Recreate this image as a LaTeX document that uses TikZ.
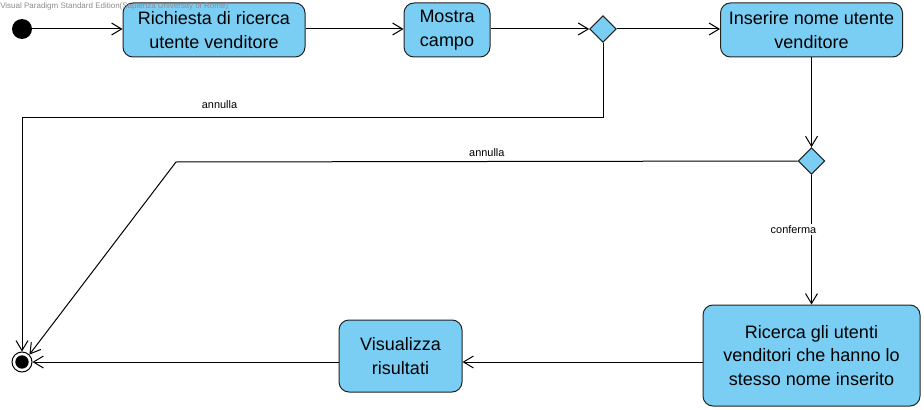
\documentclass[tikz,border=0pt]{standalone}
\usepackage{fontspec}
\setmainfont{Liberation Sans}
\usetikzlibrary{arrows.meta,shapes.geometric}
\definecolor{actfill}{HTML}{7ACEF4}
\definecolor{edgecol}{HTML}{222222}
\begin{document}
\begin{tikzpicture}[x=0.75pt,y=-0.75pt,
 act/.style={draw=edgecol,fill=actfill,rounded corners=7.5pt,line width=0.75pt,align=center,font=\fontsize{13.5}{17.6}\selectfont,inner sep=0pt},
 dec/.style={diamond,draw=edgecol,fill=actfill,minimum width=20pt,minimum height=20pt,inner sep=0pt,line width=0.75pt},
 flow/.style={draw=black,line width=0.75pt,-{Straight Barb[length=7.5pt,width=9pt,line width=0.75pt]}},
 lbl/.style={font=\fontsize{8.2}{9.5}\selectfont,inner sep=1pt}]
\useasboundingbox (0,0) rectangle (924,410);
\node[circle,fill=black,minimum size=15pt,inner sep=0pt] (init) at (22,29) {};
\node[act,minimum width=136.5pt,minimum height=40.5pt] (b1) at (214,30) {Richiesta di ricerca\\utente venditore};
\node[act,minimum width=64.5pt,minimum height=40.5pt] (b2) at (447,30) {Mostra\\campo};
\node[dec] (d1) at (603,29) {};
\node[act,minimum width=136.5pt,minimum height=40.5pt] (b3) at (811.5,30) {Inserire nome utente\\venditore};
\node[dec] (d2) at (811.5,161) {};
\node[act,minimum width=162.75pt,minimum height=75.75pt] (b4) at (811.5,355.5) {Ricerca gli utenti\\venditori che hanno lo\\stesso nome inserito};
\node[act,minimum width=92.25pt,minimum height=54pt] (b5) at (400.5,356) {Visualizza\\risultati};
\node[circle,draw=black,fill=white,line width=0.75pt,minimum size=15pt,inner sep=0pt] (fin) at (22,362) {};
\node[circle,fill=black,minimum size=10pt,inner sep=0pt] (finc) at (fin.center) {};
\coordinate (k1) at (603,117);
\coordinate (k2) at (22,117);
\coordinate (k3) at (176,162);
\draw[flow] (init.east) -- (init.east -| b1.west);
\draw[flow] (b1.east |- d1) -- (b2.west |- d1);
\draw[flow] (b2.east |- d1) -- (d1.west);
\draw[flow] (d1.east) -- (d1 -| b3.west);
\draw[flow] (b3.south) -- (d2.north);
\draw[flow] (d1.south) -- (k1) -- node[lbl,above=5pt,pos=0.66] (l1) {annulla} (k2) -- (fin.north);
\draw[flow] (d2.west) -- node[lbl,above=2pt,pos=0.5] (l2) {annulla} (k3) -- (fin.north east);
\draw[flow] (d2.south) -- node[lbl,fill=white,pos=0.42,xshift=-13.5pt] (l3) {conferma} (b4.north);
\draw[flow] (b4.west |- fin) -- (b5.east |- fin);
\draw[flow] (b5.west |- fin) -- (fin.east);
\node[anchor=north west,text=black!45,font=\fontsize{6}{7}\selectfont,inner sep=0pt] (wm) at (0,2) {Visual Paradigm Standard Edition(Sapienza University of Rome)};
\end{tikzpicture}
\end{document}
